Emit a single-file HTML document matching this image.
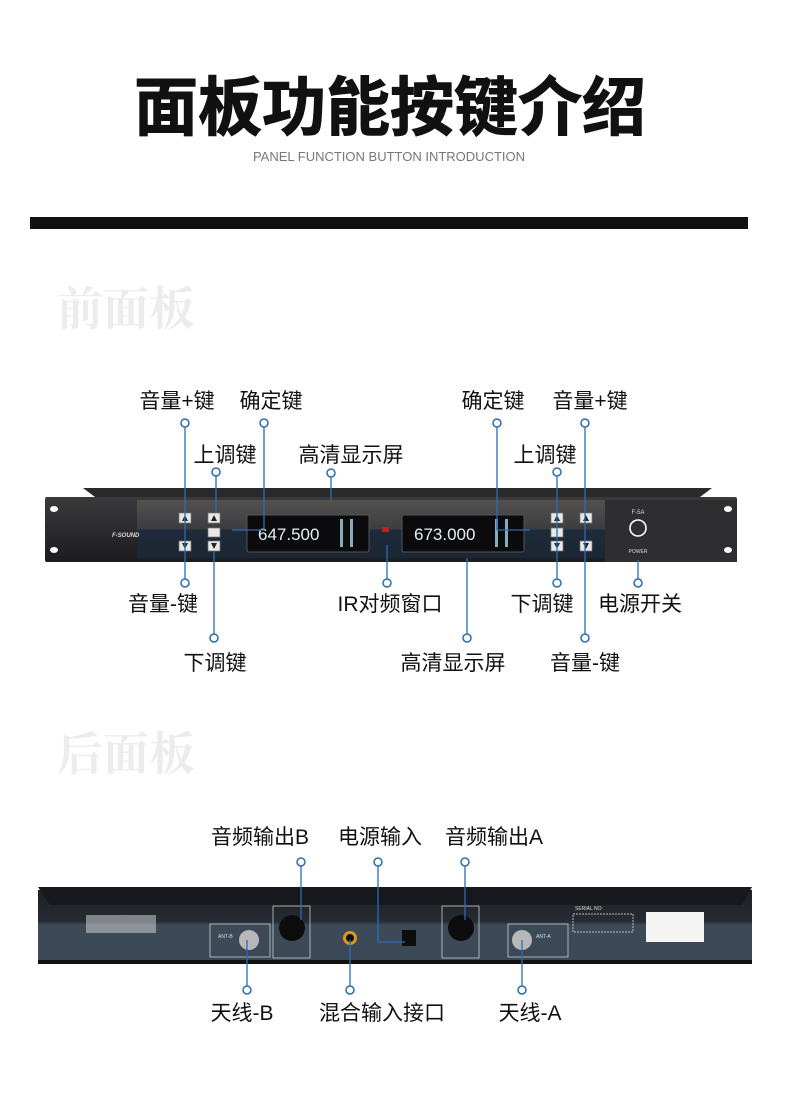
<!DOCTYPE html>
<html><head><meta charset="utf-8"><style>
html,body{margin:0;padding:0;background:#fff;}
body{width:790px;height:1117px;position:relative;overflow:hidden;font-family:"Liberation Sans","Noto Sans CJK SC",sans-serif;}
svg{position:absolute;left:0;top:0;}
</style></head><body>
<svg width="790" height="1117" viewBox="0 0 790 1117" xmlns="http://www.w3.org/2000/svg" font-family="Liberation Sans, Noto Sans CJK SC, sans-serif">
<defs>
<linearGradient id="fp" x1="0" y1="0" x2="0" y2="1"><stop offset="0" stop-color="#3a3a3c"/><stop offset="1" stop-color="#1c1c1e"/></linearGradient>
<linearGradient id="mid" x1="0" y1="0" x2="0" y2="1"><stop offset="0" stop-color="#55514d"/><stop offset="0.5" stop-color="#3b3d42"/><stop offset="0.52" stop-color="#1f2b3a"/><stop offset="1" stop-color="#1c2634"/></linearGradient>
<linearGradient id="rp" x1="0" y1="0" x2="0" y2="1"><stop offset="0" stop-color="#1d2126"/><stop offset="0.45" stop-color="#262c33"/><stop offset="0.5" stop-color="#3c4a58"/><stop offset="1" stop-color="#3b4856"/></linearGradient>
</defs>
<text x="390" y="130" text-anchor="middle" font-size="64" font-weight="bold" fill="#111" stroke="#111" stroke-width="1">面板功能按键介绍</text>
<text x="389" y="161" text-anchor="middle" font-size="13" fill="#777">PANEL FUNCTION BUTTON INTRODUCTION</text>
<rect x="30" y="217" width="718" height="12" fill="#111"/>
<text x="57" y="325" font-size="46" fill="#ececec" font-family="Liberation Serif, Noto Serif CJK SC, serif" font-weight="bold">前面板</text>
<text x="57" y="770" font-size="46" fill="#ececec" font-family="Liberation Serif, Noto Serif CJK SC, serif" font-weight="bold">后面板</text>

<polygon points="95,497 700,497 712,488 83,488" fill="#2a2a2a"/>
<rect x="45" y="497" width="692" height="65" rx="2" fill="url(#fp)"/>
<rect x="137" y="500" width="468" height="58" fill="url(#mid)"/>
<rect x="605" y="500" width="132" height="62" fill="#2e2e30"/>
<ellipse cx="54" cy="509" rx="4" ry="3" fill="#fff"/><ellipse cx="54" cy="550" rx="4" ry="3" fill="#fff"/>
<ellipse cx="728" cy="509" rx="4" ry="3" fill="#fff"/><ellipse cx="728" cy="550" rx="4" ry="3" fill="#fff"/>
<text x="112" y="537" font-size="6" fill="#ddd" font-style="italic" font-weight="bold">F-SOUND</text>
<g fill="#e8e8e8" stroke="#777" stroke-width="0.7">
<rect x="179" y="513" width="12" height="10"/><rect x="208" y="513" width="12" height="10"/><rect x="208" y="528" width="12" height="9"/>
<rect x="179" y="541" width="12" height="10"/><rect x="208" y="541" width="12" height="10"/>
<rect x="551" y="513" width="12" height="10"/><rect x="580" y="513" width="12" height="10"/><rect x="551" y="528" width="12" height="9"/>
<rect x="551" y="541" width="12" height="10"/><rect x="580" y="541" width="12" height="10"/>
</g>
<g fill="#222">
<polygon points="182,521 188,521 185,515"/><polygon points="211,521 217,521 214,515"/><polygon points="554,521 560,521 557,515"/><polygon points="583,521 589,521 586,515"/>
<polygon points="182,543 188,543 185,549"/><polygon points="211,543 217,543 214,549"/><polygon points="554,543 560,543 557,549"/><polygon points="583,543 589,543 586,549"/>
</g>
<rect x="247" y="515" width="122" height="37" rx="2" fill="#0b0b0d" stroke="#555"/>
<rect x="402" y="515" width="122" height="37" rx="2" fill="#0b0b0d" stroke="#555"/>
<text x="258" y="540" font-size="17" fill="#e8eef5">647.500</text>
<text x="414" y="540" font-size="17" fill="#e8eef5">673.000</text>
<rect x="340" y="519" width="3" height="28" fill="#8ab"/><rect x="350" y="519" width="3" height="28" fill="#8ab"/>
<rect x="495" y="519" width="3" height="28" fill="#8ab"/><rect x="505" y="519" width="3" height="28" fill="#8ab"/>
<rect x="382" y="527" width="7" height="5" fill="#c0201c"/>
<circle cx="638" cy="528" r="8" fill="none" stroke="#fff" stroke-width="1.6"/>
<text x="638" y="514" font-size="6" fill="#ddd" text-anchor="middle">F-5A</text>
<text x="638" y="553" font-size="5" fill="#ddd" text-anchor="middle">POWER</text>

<polygon points="38,890 752,890 752,960 38,960" fill="url(#rp)"/>
<polygon points="38,887 752,887 742,905 50,905" fill="#17191c"/>
<rect x="38" y="960" width="714" height="4" fill="#111"/>
<rect x="210" y="924" width="60" height="33" fill="none" stroke="#ccc" stroke-width="0.8"/>
<rect x="273" y="906" width="37" height="52" fill="none" stroke="#ccc" stroke-width="0.8"/>
<rect x="442" y="906" width="37" height="52" fill="none" stroke="#ccc" stroke-width="0.8"/>
<rect x="508" y="924" width="60" height="33" fill="none" stroke="#ccc" stroke-width="0.8"/>
<circle cx="292" cy="928" r="13" fill="#0d0d0d"/><circle cx="461" cy="928" r="13" fill="#0d0d0d"/>
<circle cx="249" cy="940" r="10" fill="#b8b8b8"/><circle cx="522" cy="940" r="10" fill="#b8b8b8"/>
<circle cx="350" cy="938" r="7" fill="#d79a1e"/><circle cx="350" cy="938" r="4" fill="#111"/>
<rect x="402" y="930" width="14" height="16" fill="#0d0d0d"/>
<rect x="573" y="914" width="60" height="18" fill="none" stroke="#bbb" stroke-dasharray="2,1"/>
<rect x="646" y="912" width="58" height="30" fill="#f4f4f4"/>
<rect x="86" y="915" width="70" height="18" fill="#dcdcdc" opacity="0.5"/>
<text x="218" y="938" font-size="5" fill="#ddd">ANT-B</text><text x="536" y="938" font-size="5" fill="#ddd">ANT-A</text>
<text x="575" y="910" font-size="5" fill="#ddd">SERIAL NO:</text>

<g stroke="#2b6cb3" stroke-width="1.3" fill="none">
<line x1="185" y1="427" x2="185" y2="579"/>
<line x1="264" y1="427" x2="264" y2="530"/><line x1="264" y1="530" x2="232" y2="530"/>
<line x1="216" y1="476" x2="216" y2="513"/>
<line x1="331" y1="477" x2="331" y2="500"/>
<line x1="497" y1="427" x2="497" y2="530"/><line x1="497" y1="530" x2="530" y2="530"/>
<line x1="557" y1="476" x2="557" y2="579"/>
<line x1="585" y1="427" x2="585" y2="634"/>
<line x1="214" y1="551" x2="214" y2="634"/>
<line x1="387" y1="545" x2="387" y2="579"/>
<line x1="467" y1="558" x2="467" y2="634"/>
<line x1="638" y1="560" x2="638" y2="579"/>
<line x1="301" y1="866" x2="301" y2="920"/>
<line x1="378" y1="866" x2="378" y2="942"/><line x1="378" y1="942" x2="405" y2="942"/>
<line x1="465" y1="866" x2="465" y2="920"/>
<line x1="247" y1="940" x2="247" y2="986"/>
<line x1="350" y1="940" x2="350" y2="986"/>
<line x1="522" y1="940" x2="522" y2="986"/>
</g>
<g stroke="#2b6cb3" stroke-width="1.5" fill="#fff">
<circle cx="185" cy="423" r="4"/><circle cx="264" cy="423" r="4"/><circle cx="497" cy="423" r="4"/><circle cx="585" cy="423" r="4"/>
<circle cx="216" cy="472" r="4"/><circle cx="331" cy="473" r="4"/><circle cx="557" cy="472" r="4"/>
<circle cx="185" cy="583" r="4"/><circle cx="387" cy="583" r="4"/><circle cx="557" cy="583" r="4"/><circle cx="638" cy="583" r="4"/>
<circle cx="214" cy="638" r="4"/><circle cx="467" cy="638" r="4"/><circle cx="585" cy="638" r="4"/>
<circle cx="301" cy="862" r="4"/><circle cx="378" cy="862" r="4"/><circle cx="465" cy="862" r="4"/>
<circle cx="247" cy="990" r="4"/><circle cx="350" cy="990" r="4"/><circle cx="522" cy="990" r="4"/>
</g>
<g font-size="21" fill="#111" text-anchor="middle">
<text x="177" y="408">音量+键</text><text x="271" y="408">确定键</text><text x="493" y="408">确定键</text><text x="590" y="408">音量+键</text>
<text x="225" y="462">上调键</text><text x="351" y="462">高清显示屏</text><text x="545" y="462">上调键</text>
<text x="163" y="611">音量-键</text><text x="390" y="611">IR对频窗口</text><text x="542" y="611">下调键</text><text x="640" y="611">电源开关</text>
<text x="215" y="670">下调键</text><text x="453" y="670">高清显示屏</text><text x="585" y="670">音量-键</text>
<text x="260" y="844">音频输出B</text><text x="380" y="844">电源输入</text><text x="494" y="844">音频输出A</text>
<text x="242" y="1020">天线-B</text><text x="382" y="1020">混合输入接口</text><text x="530" y="1020">天线-A</text>
</g>
</svg>
</body></html>
